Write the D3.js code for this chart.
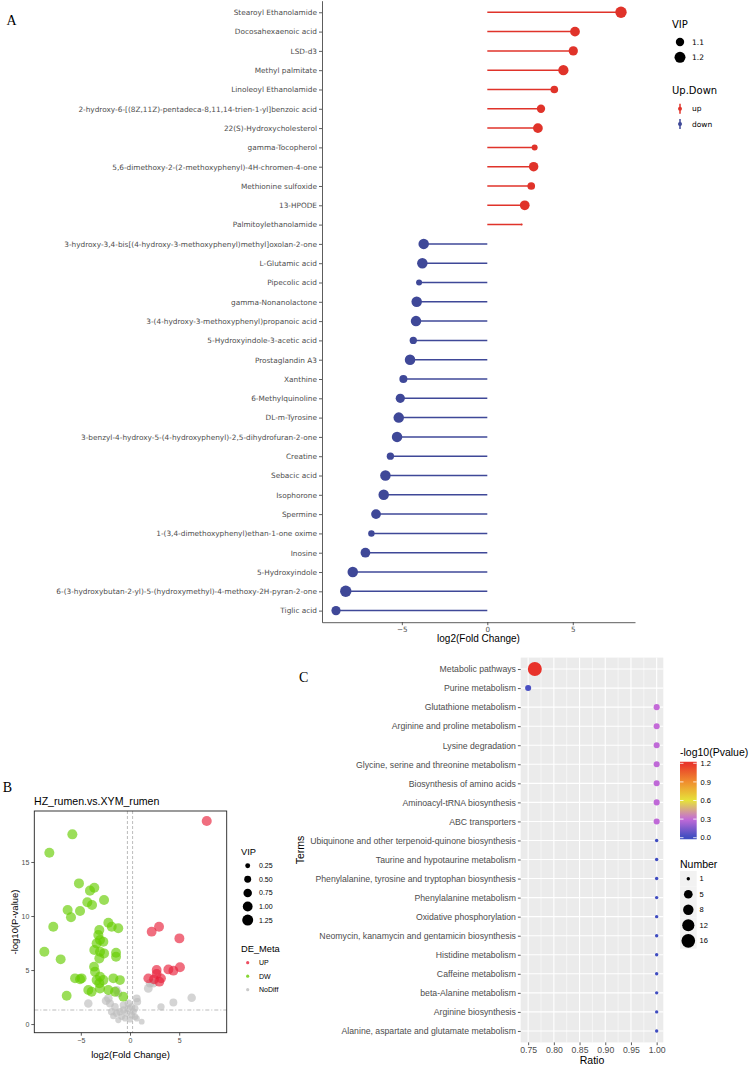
<!DOCTYPE html>
<html><head><meta charset="utf-8">
<script src="https://cdn.jsdelivr.net/npm/d3@7"></script>
<style>body{margin:0;background:#fff}svg{display:block}</style>
</head><body><svg id="c" width="750" height="1066"></svg>
<script>
// ---------- Panel A data ----------
const namesA = ["Stearoyl Ethanolamide","Docosahexaenoic acid","LSD-d3","Methyl palmitate","Linoleoyl Ethanolamide",
"2-hydroxy-6-[(8Z,11Z)-pentadeca-8,11,14-trien-1-yl]benzoic acid","22(S)-Hydroxycholesterol","gamma-Tocopherol",
"5,6-dimethoxy-2-(2-methoxyphenyl)-4H-chromen-4-one","Methionine sulfoxide","13-HPODE","Palmitoylethanolamide",
"3-hydroxy-3,4-bis[(4-hydroxy-3-methoxyphenyl)methyl]oxolan-2-one","L-Glutamic acid","Pipecolic acid","gamma-Nonanolactone",
"3-(4-hydroxy-3-methoxyphenyl)propanoic acid","5-Hydroxyindole-3-acetic acid","Prostaglandin A3","Xanthine","6-Methylquinoline",
"DL-m-Tyrosine","3-benzyl-4-hydroxy-5-(4-hydroxyphenyl)-2,5-dihydrofuran-2-one","Creatine","Sebacic acid","Isophorone","Spermine",
"1-(3,4-dimethoxyphenyl)ethan-1-one oxime","Inosine","5-Hydroxyindole","6-(3-hydroxybutan-2-yl)-5-(hydroxymethyl)-4-methoxy-2H-pyran-2-one","Tiglic acid"];
const log2fcA = [7.82,5.13,5.03,4.45,3.92,3.14,2.96,2.77,2.71,2.57,2.19,2.01,
-3.72,-3.80,-3.99,-4.13,-4.17,-4.33,-4.52,-4.91,-5.09,-5.18,-5.28,-5.67,-5.96,-6.06,-6.51,-6.78,-7.13,-7.87,-8.28,-8.85];
const vipA = [1.22,1.15,1.13,1.17,1.08,1.10,1.15,1.04,1.14,1.08,1.15,1.00,
1.18,1.18,1.04,1.18,1.18,1.07,1.18,1.09,1.13,1.18,1.18,1.07,1.18,1.18,1.15,1.05,1.15,1.18,1.22,1.13];
const ticksA = [-5,0,5];
const vipLegendA = [1.1,1.2];
const dirLegendA = ["up","down"];

// ---------- Panel B data ----------
const upX = [7.8,2.95,2.2,5.02,2.71,3.9,4.41,5.08,2.71,1.86,2.44,2.98,3.15];
const upY = [18.8,9.0,8.55,7.93,5.0,5.06,4.94,5.25,4.63,4.23,4.14,3.92,4.23];
const upVip = [1.05,1.02,1.0,1.02,1.0,1.02,1.0,1.02,1.0,1.0,1.0,1.0,1.0];
const dwX = [-5.86,-8.2,-5.19,-3.63,-4.07,-2.64,-4.34,-3.86,-5.08,-6.34,-6.0,-7.8,-2.2,-1.19,-1.86,-3.12,-3.22,-3.05,-3.39,-2.71,
-3.63,-3.05,-2.64,-1.42,-1.42,-8.71,-7.05,-3.12,-3.66,-3.56,-3.05,-5.59,-5.08,-4.92,-3.39,-2.71,-1.69,-1.02,-3.12,-4.24,-3.9,-3.05,-2.2,-6.44,-1.53,-0.68];
const dwY = [17.56,15.86,13.02,12.62,12.35,11.48,11.27,11.02,10.46,10.56,9.88,9.01,9.38,8.86,9.0,8.7,8.24,7.78,7.47,7.62,
6.85,6.7,6.54,6.6,6.23,6.7,5.99,6.08,5.31,4.85,4.38,4.23,4.14,4.23,4.07,4.07,4.23,4.07,3.77,3.15,2.99,3.3,3.15,2.62,2.99,2.53];
const dwVip = [1.05,1.05,1.04,1.04,1.04,1.04,1.04,1.04,1.04,1.04,1.04,1.04,1.04,1.02,1.02,1.04,1.04,1.04,1.04,1.04,
1.04,1.04,1.04,1.02,1.02,1.04,1.02,1.04,1.0,1.02,1.04,1.02,1.02,1.02,1.04,1.04,1.02,1.0,1.04,1.02,1.02,1.04,1.02,1.0,1.0,0.98];
const ndX = [1.86,2.03,2.37,6.27,4.41,3.15,-4.24,-1.36,-2.44,-2.2,-1.19,0.68,0.75,-2.03,-1.53,-1.86,-1.36,-1.02,-0.68,-0.34,
-0.17,0.17,0.34,0.51,-0.85,-0.51,0.0,0.68,1.19,-1.19,-1.69,-0.17,0.17,-0.68,0.51];
const ndY = [3.3,3.77,3.77,2.44,2.0,1.6,1.91,3.15,2.16,2.38,2.84,2.38,2.07,1.91,1.6,1.14,0.99,1.14,1.3,0.99,
1.45,0.83,1.14,0.68,0.68,0.52,0.43,0.52,0.22,0.37,0.74,1.91,1.6,1.76,1.45];
const ndVip = [0.8,0.75,0.75,0.75,0.65,0.55,0.75,0.65,0.75,0.75,0.65,0.65,0.6,0.65,0.6,0.6,0.55,0.55,0.55,0.5,
0.55,0.5,0.5,0.45,0.45,0.4,0.4,0.4,0.35,0.4,0.45,0.6,0.55,0.55,0.5];
const ticksBx = [-5,0,5];
const ticksBy = [0,5,10,15];
const vipLegendB = [0.25,0.5,0.75,1.0,1.25];
const groupsB = ["UP","DW","NoDiff"];

// ---------- Panel C data ----------
const termsC = ["Metabolic pathways","Purine metabolism","Glutathione metabolism","Arginine and proline metabolism","Lysine degradation",
"Glycine, serine and threonine metabolism","Biosynthesis of amino acids","Aminoacyl-tRNA biosynthesis","ABC transporters",
"Ubiquinone and other terpenoid-quinone biosynthesis","Taurine and hypotaurine metabolism","Phenylalanine, tyrosine and tryptophan biosynthesis",
"Phenylalanine metabolism","Oxidative phosphorylation","Neomycin, kanamycin and gentamicin biosynthesis","Histidine metabolism",
"Caffeine metabolism","beta-Alanine metabolism","Arginine biosynthesis","Alanine, aspartate and glutamate metabolism"];
const ratioC = [0.763,0.75,1,1,1,1,1,1,1,1,1,1,1,1,1,1,1,1,1,1];
const numberC = [17,2,2,2,2,2,2,2,2,1,1,1,1,1,1,1,1,1,1,1];
const pvalC = [1.22,0.03,0.3,0.3,0.29,0.29,0.29,0.29,0.29,0.01,0.01,0.01,0.01,0.01,0.01,0.01,0.01,0.01,0.01,0.01];
const ticksCx = [0.75,0.80,0.85,0.90,0.95,1.00];
const minorCx = [0.775,0.825,0.875,0.925,0.975];
const cbTicks = [0.0,0.3,0.6,0.9,1.2];
const numLegend = [1,5,8,12,16];

// ================= drawing =================
const svg = d3.select("#c");
const fA = "'DejaVu Sans', sans-serif";
const fH = "'Liberation Sans', Arial, sans-serif";
const fS = "'Liberation Serif', 'Times New Roman', serif";
const RED = "#e0332a", BLUE = "#3f4898";

function styleAxis(g, fs, font){
  g.select(".domain").attr("stroke","#333").attr("stroke-width",0.8);
  g.selectAll(".tick line").attr("stroke","#333").attr("stroke-width",0.8);
  g.selectAll(".tick text").attr("fill","#4d4d4d").style("font-size",fs+"px").style("font-family",font);
}

// ---- Panel A ----
const gA = svg.append("g");
const xA = d3.scaleLinear().domain([-9.67, 8.64]).range([322, 635]);
const yA = d3.scalePoint().domain(namesA).range([0.7, 622.2]).padding(0.6);
const vExt = d3.extent(vipA);
const rUnitA = d3.scaleSqrt().domain([0,1]).range([1,5.7]);
const rA = v => rUnitA((v - vExt[0])/(vExt[1]-vExt[0]));
const dataA = namesA.map((n,i)=>({n, fc:log2fcA[i], vip:vipA[i], col: log2fcA[i]>0?RED:BLUE}));

gA.selectAll("line.seg").data(dataA).join("line").attr("class","seg")
  .attr("x1",xA(0)).attr("x2",d=>xA(d.fc)).attr("y1",d=>yA(d.n)).attr("y2",d=>yA(d.n))
  .attr("stroke",d=>d.col).attr("stroke-width",1.5);
gA.selectAll("circle").data(dataA).join("circle")
  .attr("cx",d=>xA(d.fc)).attr("cy",d=>yA(d.n)).attr("r",d=>rA(d.vip)).attr("fill",d=>d.col);

const axAy = gA.append("g").attr("transform","translate(322,0)")
  .call(d3.axisLeft(yA).tickSize(3).tickSizeOuter(0).tickPadding(2));
styleAxis(axAy, 7.35, fA);
const axAx = gA.append("g").attr("transform","translate(0,622.2)")
  .call(d3.axisBottom(xA).tickValues(ticksA).tickSize(3).tickSizeOuter(0).tickPadding(2));
styleAxis(axAx, 7.2, fA);
gA.append("text").attr("x",478.5).attr("y",642).attr("text-anchor","middle")
  .style("font-family",fH).style("font-size","10px").text("log2(Fold Change)");
svg.append("text").attr("x",6.5).attr("y",24.5).style("font-family",fS).style("font-size","14px").text("A");

// legend A
const lA = svg.append("g");
lA.append("text").attr("x",672).attr("y",28).style("font-family",fA).style("font-size","10px").text("VIP");
vipLegendA.forEach((v,i)=>{
  const y = 42 + i*15.3;
  lA.append("circle").attr("cx",680).attr("cy",y).attr("r",rA(v)).attr("fill","#000");
  lA.append("text").attr("x",692).attr("y",y).attr("dy","0.35em").style("font-family",fA).style("font-size","7.5px").text(v.toFixed(1));
});
lA.append("text").attr("x",672).attr("y",94).style("font-family",fA).style("font-size","10px").text("Up.Down");
dirLegendA.forEach((d,i)=>{
  const y = 108.7 + i*15.3, c = d==="up"?RED:BLUE;
  lA.append("line").attr("x1",680).attr("x2",680).attr("y1",y-5).attr("y2",y+5).attr("stroke",c).attr("stroke-width",1.5);
  lA.append("circle").attr("cx",680).attr("cy",y).attr("r",2).attr("fill",c);
  lA.append("text").attr("x",692).attr("y",y).attr("dy","0.35em").style("font-family",fA).style("font-size","7.5px").text(d);
});

// ---- Panel B ----
const gB = svg.append("g");
const xB = d3.scaleLinear().domain([-9.73, 9.83]).range([34.3, 226.7]);
const yB = d3.scaleLinear().domain([-0.8, 19.72]).range([1032.7, 811]);
const rB = d3.scaleSqrt().domain([0,1.3]).range([0,5.6]);
const colB = {UP:"#e8213a", DW:"#66cc00", NoDiff:"#bdbdbd"};
const ptsB = [];
ndX.forEach((x,i)=>ptsB.push({x,y:ndY[i],v:ndVip[i],g:"NoDiff"}));
dwX.forEach((x,i)=>ptsB.push({x,y:dwY[i],v:dwVip[i],g:"DW"}));
upX.forEach((x,i)=>ptsB.push({x,y:upY[i],v:upVip[i],g:"UP"}));

gB.append("line").attr("x1",xB(-0.263)).attr("x2",xB(-0.263)).attr("y1",811).attr("y2",1032.7)
  .attr("stroke","#aaa").attr("stroke-width",0.8).attr("stroke-dasharray","3,2");
gB.append("line").attr("x1",xB(0.263)).attr("x2",xB(0.263)).attr("y1",811).attr("y2",1032.7)
  .attr("stroke","#aaa").attr("stroke-width",0.8).attr("stroke-dasharray","3,2");
gB.append("line").attr("x1",34.3).attr("x2",226.7).attr("y1",yB(1.301)).attr("y2",yB(1.301))
  .attr("stroke","#aaa").attr("stroke-width",0.8).attr("stroke-dasharray","4,2,1,2");
gB.selectAll("circle").data(ptsB).join("circle")
  .attr("cx",d=>xB(d.x)).attr("cy",d=>yB(d.y)).attr("r",d=>rB(d.v))
  .attr("fill",d=>colB[d.g]).attr("fill-opacity",0.65);
gB.append("rect").attr("x",34.3).attr("y",811).attr("width",226.7-34.3).attr("height",1032.7-811)
  .attr("fill","none").attr("stroke","#222").attr("stroke-width",0.9);
const axBy = gB.append("g").attr("transform","translate(34.3,0)")
  .call(d3.axisLeft(yB).tickValues(ticksBy).tickSize(3).tickSizeOuter(0).tickPadding(2));
styleAxis(axBy, 7, fH); axBy.select(".domain").remove();
const axBx = gB.append("g").attr("transform","translate(0,1032.7)")
  .call(d3.axisBottom(xB).tickValues(ticksBx).tickSize(3).tickSizeOuter(0).tickPadding(2));
styleAxis(axBx, 7, fH); axBx.select(".domain").remove();
gB.append("text").attr("x",34).attr("y",805).style("font-family",fH).style("font-size","10.6px").text("HZ_rumen.vs.XYM_rumen");
gB.append("text").attr("transform","translate(18,922) rotate(-90)").attr("text-anchor","middle")
  .style("font-family",fH).style("font-size","9.5px").text("-log10(P-value)");
gB.append("text").attr("x",130.5).attr("y",1058).attr("text-anchor","middle")
  .style("font-family",fH).style("font-size","9.5px").text("log2(Fold Change)");
svg.append("text").attr("x",2.7).attr("y",791.7).style("font-family",fS).style("font-size","14px").text("B");

// legend B
const lB = svg.append("g");
lB.append("text").attr("x",241).attr("y",855).style("font-family",fH).style("font-size","9.3px").text("VIP");
vipLegendB.forEach((v,i)=>{
  const y = 865.7 + i*13.6;
  lB.append("circle").attr("cx",247.7).attr("cy",y).attr("r",rB(v)).attr("fill","#000");
  lB.append("text").attr("x",259).attr("y",y).attr("dy","0.35em").style("font-family",fH).style("font-size","7px").text(v.toFixed(2));
});
lB.append("text").attr("x",241).attr("y",951.5).style("font-family",fH).style("font-size","9.3px").text("DE_Meta");
groupsB.forEach((g,i)=>{
  const y = 962.7 + i*13.5;
  lB.append("circle").attr("cx",247.7).attr("cy",y).attr("r",1.6).attr("fill",colB[g]).attr("fill-opacity",0.8);
  lB.append("text").attr("x",259).attr("y",y).attr("dy","0.35em").style("font-family",fH).style("font-size","7px").text(g);
});

// ---- Panel C ----
const gC = svg.append("g");
const xC = d3.scaleLinear().domain([0.7355, 1.0129]).range([520.7, 663.3]);
const yC = d3.scalePoint().domain(termsC).range([657.6, 1042.4]).padding(0.6);
const nExt = d3.extent(numberC);
const rUnitC = d3.scaleSqrt().domain([0,1]).range([1.7,7]);
const rC = n => rUnitC((n - nExt[0])/(nExt[1]-nExt[0]));
const colC = d3.scaleLinear().domain(cbTicks).range(["#3b4cc0","#c46ad8","#e6e23a","#f08e2e","#e8322a"]).clamp(true);

gC.append("rect").attr("x",520.7).attr("y",657.6).attr("width",663.3-520.7).attr("height",1042.4-657.6).attr("fill","#ebebeb");
gC.selectAll("line.minor").data(minorCx).join("line").attr("class","minor")
  .attr("x1",d=>xC(d)).attr("x2",d=>xC(d)).attr("y1",657.6).attr("y2",1042.4).attr("stroke","#fff").attr("stroke-width",0.55);
gC.selectAll("line.major").data(ticksCx).join("line").attr("class","major")
  .attr("x1",d=>xC(d)).attr("x2",d=>xC(d)).attr("y1",657.6).attr("y2",1042.4).attr("stroke","#fff").attr("stroke-width",1.1);
gC.selectAll("line.hmaj").data(termsC).join("line").attr("class","hmaj")
  .attr("x1",520.7).attr("x2",663.3).attr("y1",d=>yC(d)).attr("y2",d=>yC(d)).attr("stroke","#fff").attr("stroke-width",1.1);
const dataC = termsC.map((t,i)=>({t, r:ratioC[i], n:numberC[i], p:pvalC[i]}));
gC.selectAll("circle").data(dataC).join("circle")
  .attr("cx",d=>xC(d.r)).attr("cy",d=>yC(d.t)).attr("r",d=>rC(d.n)).attr("fill",d=>colC(d.p));
const axCy = gC.append("g").attr("transform","translate(520.7,0)")
  .call(d3.axisLeft(yC).tickSize(2.8).tickSizeOuter(0).tickPadding(2));
styleAxis(axCy, 8.7, fH); axCy.select(".domain").remove();
const axCx = gC.append("g").attr("transform","translate(0,1042.4)")
  .call(d3.axisBottom(xC).tickValues(ticksCx).tickFormat(d3.format(".2f")).tickSize(2.8).tickSizeOuter(0).tickPadding(2));
styleAxis(axCx, 8.7, fH); axCx.select(".domain").remove();
gC.append("text").attr("x",592).attr("y",1063.5).attr("text-anchor","middle").style("font-family",fH).style("font-size","10.5px").text("Ratio");
gC.append("text").attr("transform","translate(303.5,850) rotate(-90)").attr("text-anchor","middle")
  .style("font-family",fH).style("font-size","10.5px").text("Terms");
svg.append("text").attr("x",299).attr("y",681.7).style("font-family",fS).style("font-size","14px").text("C");

// colorbar
const defs = svg.append("defs");
const yCB = d3.scaleLinear().domain([0,1.2]).range([837.7,763.3]);
const cbLo = -0.025, cbHi = 1.225;
const grad = defs.append("linearGradient").attr("id","cbg").attr("x1",0).attr("y1",1).attr("x2",0).attr("y2",0);
d3.range(0,21).forEach(i=>{
  const v = cbLo + (cbHi-cbLo)*i/20;
  grad.append("stop").attr("offset",(i/20*100)+"%").attr("stop-color",colC(v));
});
const lC = svg.append("g");
lC.append("text").attr("x",680).attr("y",756).style("font-family",fH).style("font-size","10.5px").text("-log10(Pvalue)");
lC.append("rect").attr("x",680).attr("y",yCB(cbHi)).attr("width",16.7).attr("height",yCB(cbLo)-yCB(cbHi)).attr("fill","url(#cbg)");
cbTicks.forEach(t=>{
  lC.append("line").attr("x1",680).attr("x2",683.5).attr("y1",yCB(t)).attr("y2",yCB(t)).attr("stroke","#fff").attr("stroke-width",0.8);
  lC.append("line").attr("x1",693.2).attr("x2",696.7).attr("y1",yCB(t)).attr("y2",yCB(t)).attr("stroke","#fff").attr("stroke-width",0.8);
  lC.append("text").attr("x",700.5).attr("y",yCB(t)).attr("dy","0.35em").style("font-family",fH).style("font-size","7.5px").text(t.toFixed(1));
});
lC.append("text").attr("x",680).attr("y",867.5).style("font-family",fH).style("font-size","10.5px").text("Number");
let ky = 871;
numLegend.forEach(n=>{
  const h = Math.max(15.5, 2*rC(n)+2);
  lC.append("rect").attr("x",680).attr("y",ky).attr("width",16.7).attr("height",h).attr("fill","#f2f2f2");
  lC.append("circle").attr("cx",688.3).attr("cy",ky+h/2).attr("r",rC(n)).attr("fill","#000");
  lC.append("text").attr("x",699.5).attr("y",ky+h/2).attr("dy","0.35em").style("font-family",fH).style("font-size","7.5px").text(n);
  ky += h;
});
</script></body></html>
